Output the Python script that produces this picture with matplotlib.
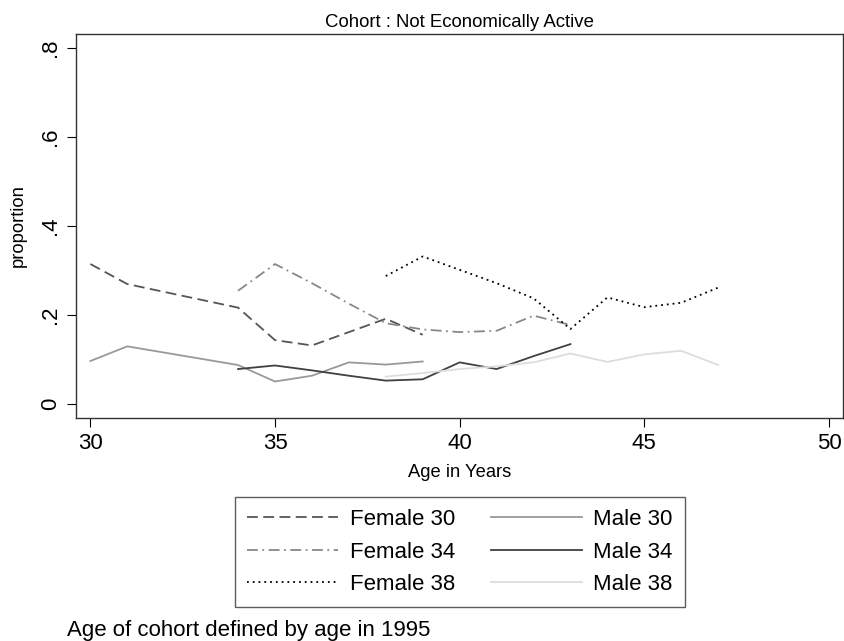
import matplotlib
matplotlib.use('Agg')
import matplotlib.pyplot as plt

plt.rcParams['font.family'] = ['Liberation Sans', 'DejaVu Sans']

# proportion not economically active, by cohort (age in 1995)
f30_age = [30, 31, 34, 35, 36, 38, 39]
f30_val = [0.315, 0.270, 0.217, 0.144, 0.132, 0.192, 0.156]

f34_age = [34, 35, 36, 37, 38, 39, 40, 41, 42, 43]
f34_val = [0.255, 0.315, 0.272, 0.226, 0.182, 0.168, 0.162, 0.165, 0.199, 0.178]

f38_age = [38, 39, 40, 41, 42, 43, 44, 45, 46, 47]
f38_val = [0.288, 0.332, 0.302, 0.272, 0.238, 0.169, 0.240, 0.218, 0.228, 0.262]

m30_age = [30, 31, 34, 35, 36, 37, 38, 39]
m30_val = [0.097, 0.130, 0.088, 0.051, 0.064, 0.094, 0.089, 0.096]

m34_age = [34, 35, 36, 37, 38, 39, 40, 41, 42, 43]
m34_val = [0.079, 0.087, 0.076, 0.064, 0.053, 0.056, 0.094, 0.079, 0.108, 0.135]

m38_age = [38, 39, 40, 41, 42, 43, 44, 45, 46, 47]
m38_val = [0.062, 0.070, 0.079, 0.085, 0.094, 0.114, 0.095, 0.112, 0.120, 0.088]

xticks = [30, 35, 40, 45, 50]
yticks = [0, 0.2, 0.4, 0.6, 0.8]
ytick_labels = ['0', '.2', '.4', '.6', '.8']

fig = plt.figure(figsize=(8.44, 6.41), dpi=100)
ax = fig.add_axes([0.0900, 0.3479, 0.9088, 0.5991])

lw = 1.3
ax.plot(f30_age, f30_val, color='#555555', lw=lw, linestyle=(0, (6, 3)), label='Female 30')
ax.plot(f34_age, f34_val, color='#888888', lw=lw, linestyle=(0, (6, 2.5, 1, 2.5)), label='Female 34')
ax.plot(f38_age, f38_val, color='black', lw=lw, linestyle=(0, (1, 2.2)), label='Female 38')
ax.plot(m30_age, m30_val, color='#999999', lw=lw, label='Male 30')
ax.plot(m34_age, m34_val, color='#404040', lw=lw, label='Male 34')
ax.plot(m38_age, m38_val, color='#dddddd', lw=lw, label='Male 38')

ax.set_xlim(29.61, 50.38)
ax.set_ylim(-0.031, 0.832)
ax.set_xticks(xticks)
ax.set_yticks(yticks)
ax.set_yticklabels(ytick_labels, rotation=90, va='center')
ax.tick_params(axis='both', direction='out', length=6.5, width=0.8,
               labelsize=16, pad=4.5, colors='black')

for sp in ax.spines.values():
    sp.set_color('#333333')
    sp.set_linewidth(1.0)

ax.set_title('Cohort : Not Economically Active', fontsize=13.4, pad=5)
ax.set_xlabel('Age in Years', fontsize=13.2)
ax.xaxis.set_label_coords(0.5, -0.120)
ax.set_ylabel('proportion', fontsize=13.2)
ax.yaxis.set_label_coords(-0.064, 0.5)

leg = fig.legend(loc='upper left', bbox_to_anchor=(235 / 844, (641 - 497) / 641),
                 ncol=2, fontsize=16, frameon=True, fancybox=False,
                 handlelength=4.1, handletextpad=0.52, columnspacing=1.6,
                 labelspacing=0.51, borderpad=0.55, borderaxespad=0)
leg.get_frame().set_edgecolor('#333333')
leg.get_frame().set_linewidth(1.0)

fig.text(67 / 844, (641 - 636) / 641, 'Age of cohort defined by age in 1995',
         fontsize=16, ha='left', va='baseline')

fig.savefig('out.png', dpi=100)
